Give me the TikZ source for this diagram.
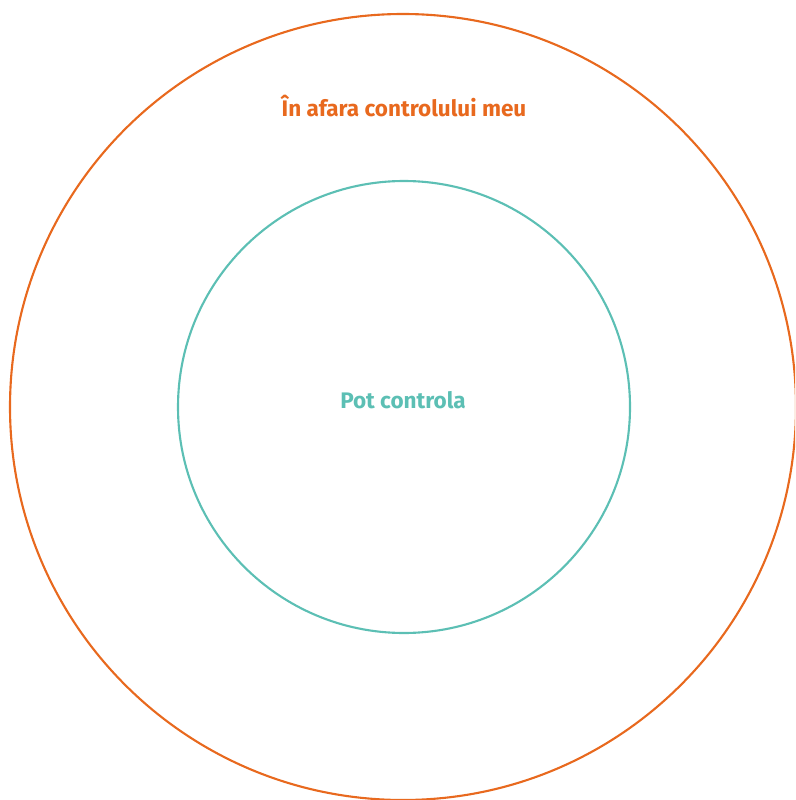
\documentclass[tikz,border=0pt]{standalone}
\usepackage{fontspec}
\setmainfont{Fira Sans}
\definecolor{outside}{HTML}{E8691E}
\definecolor{inside}{HTML}{5CBFB4}

\begin{document}
\begin{tikzpicture}[
        x=0.025cm, y=-0.025cm,
        ring/.style={circle, draw, line width=1.5pt, inner sep=0pt},
        label/.style={font=\bfseries\fontsize{16}{19}\selectfont}
    ]
        \useasboundingbox (0,0) rectangle (795,800);
        \clip (0,0) rectangle (795,800);

        % Circles
        \node[ring, draw=outside, minimum size=786*0.025cm] (outer) at (403,407) {};
        \node[ring, draw=inside, minimum size=452*0.025cm] (inner) at (404,407) {};

        % Labels
        \node[label, text=outside] (outtext) at (404,106) {În afara controlului meu};
        \node[label, text=inside] (intext) at (403,400) {Pot controla};

    \end{tikzpicture}
\end{document}
